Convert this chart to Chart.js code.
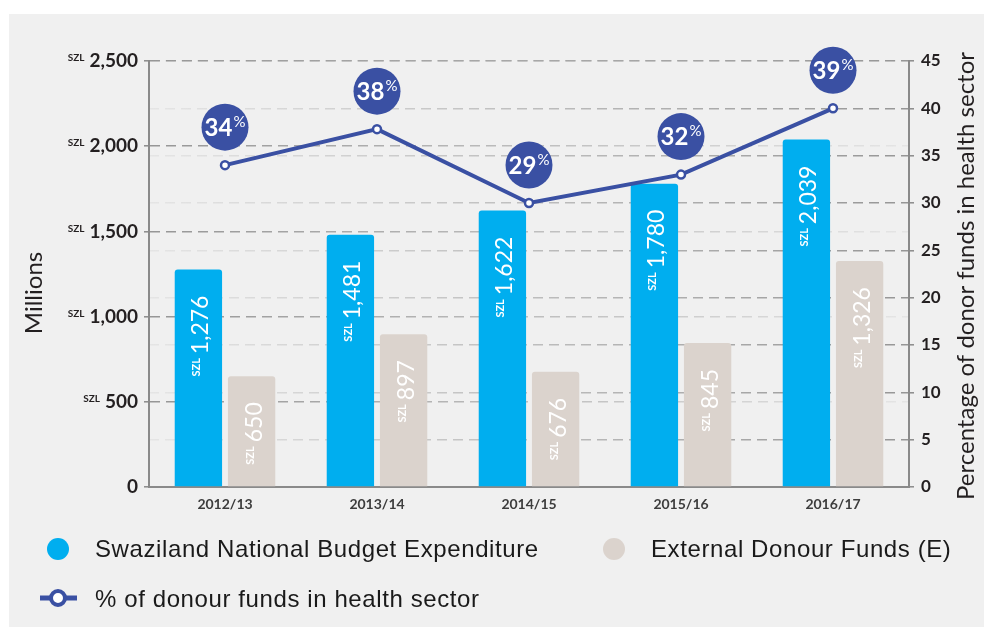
<!DOCTYPE html>
<html>
<head>
<meta charset="utf-8">
<script src="https://cdn.jsdelivr.net/npm/chart.js@4"></script>
<style>
  html, body { margin: 0; background: #fff; }
  canvas { display: block; }
</style>
</head>
<body>
<canvas id="chart" width="984" height="627"></canvas>
<script>
var years = ['2012/13', '2013/14', '2014/15', '2015/16', '2016/17'];
var budget = [1276, 1481, 1622, 1780, 2039];
var donor = [650, 897, 676, 845, 1326];
// where the points sit on the right axis, and the rounded numbers printed in the bubbles
var pctLine = [34, 37.8, 30, 33, 40];
var pctLabels = [34, 38, 29, 32, 39];

var BLUE = '#00aeef';
var BEIGE = '#dbd3cd';
var NAVY = '#3a50a3';
var AXIS = '#8a8a8a';

function fmt(v) { return v.toLocaleString('en-US'); }

// grid lines fade away from the axis they belong to
function gridGrad(chart, fromLeft) {
  var a = chart.chartArea;
  if (!a) return '#aaa';
  var g = chart.ctx.createLinearGradient(a.left, 0, a.right, 0);
  var dark = 'rgba(150,150,150,1)', light = 'rgba(150,150,150,0.12)';
  g.addColorStop(0, fromLeft ? dark : light);
  g.addColorStop(1, fromLeft ? light : dark);
  return g;
}

var decor = {
  id: 'decor',
  beforeDraw: function(chart) {
    var c = chart.ctx;
    c.save();
    c.fillStyle = '#fff';
    c.fillRect(0, 0, chart.width, chart.height);
    c.fillStyle = '#f0f0f0';
    c.fillRect(9, 14, chart.width - 9, chart.height - 14);
    c.restore();
  },
  afterDatasetsDraw: function(chart) {
    var c = chart.ctx;
    c.save();
    // rotated value labels inside the bars
    [0, 1].forEach(function(di) {
      var meta = chart.getDatasetMeta(di);
      var vals = chart.data.datasets[di].data;
      meta.data.forEach(function(bar, i) {
        c.save();
        c.translate(bar.x + 10, bar.y + 26);
        c.rotate(-Math.PI / 2);
        c.fillStyle = '#fff';
        c.textAlign = 'right';
        c.textBaseline = 'alphabetic';
        c.font = '23px Lato';
        var s = fmt(vals[i]);
        var w = c.measureText(s).width;
        c.fillText(s, 0, 0);
        c.font = 'bold 11px Lato';
        c.fillText('SZL', -w - 4, -8);
        c.restore();
      });
    });
    // percentage bubbles above the line points
    var lm = chart.getDatasetMeta(2);
    lm.data.forEach(function(pt, i) {
      var cx = pt.x, cy = pt.y - 38;
      c.beginPath();
      c.arc(cx, cy, 23.5, 0, Math.PI * 2);
      c.fillStyle = NAVY;
      c.fill();
      c.fillStyle = '#fff';
      c.textBaseline = 'alphabetic';
      c.textAlign = 'left';
      c.font = 'bold 24px Lato';
      var s = String(pctLabels[i]);
      var w1 = c.measureText(s).width;
      c.font = '15px Lato';
      var w2 = c.measureText('%').width;
      var x0 = cx - (w1 + w2 + 1) / 2;
      c.font = 'bold 24px Lato';
      c.fillText(s, x0, cy + 8.5);
      c.font = '15px Lato';
      c.fillText('%', x0 + w1 + 1, cy - 0.5);
    });
    c.restore();
  },
  afterDraw: function(chart) {
    var c = chart.ctx;
    var y = chart.scales.y;
    var a = chart.chartArea;
    c.save();
    // "SZL" prefix on the left tick labels
    y.ticks.forEach(function(t) {
      if (t.value === 0) return;
      var py = y.getPixelForValue(t.value);
      c.font = 'bold 19px Lato';
      var w = c.measureText(fmt(t.value)).width;
      c.font = 'bold 10px Lato';
      c.fillStyle = '#231f20';
      c.textAlign = 'right';
      c.textBaseline = 'top';
      c.fillText('SZL', a.left - 11 - w - 5, py - 8);
    });
    // axis titles, both reading bottom to top
    c.fillStyle = '#231f20';
    c.textAlign = 'center';
    c.textBaseline = 'middle';
    c.font = '24px Lato';
    c.save();
    c.translate(34, 293);
    c.rotate(-Math.PI / 2);
    c.fillText('Millions', 0, 0);
    c.restore();
    c.save();
    c.translate(966, 276);
    c.rotate(-Math.PI / 2);
    c.fillText('Percentage of donor funds in health sector', 0, 0);
    c.restore();
    // legend
    var ds = chart.data.datasets;
    c.textAlign = 'left';
    c.textBaseline = 'middle';
    c.font = '24px "Liberation Sans"';
    c.letterSpacing = '0.6px';
    c.fillStyle = ds[0].backgroundColor;
    c.beginPath(); c.arc(58, 549, 11, 0, Math.PI * 2); c.fill();
    c.fillStyle = '#1a1a1a';
    c.fillText(ds[0].label, 95, 550);
    c.fillStyle = ds[1].backgroundColor;
    c.beginPath(); c.arc(614, 549, 11, 0, Math.PI * 2); c.fill();
    c.fillStyle = '#1a1a1a';
    c.fillText(ds[1].label, 651, 550);
    c.strokeStyle = ds[2].borderColor;
    c.lineWidth = 5;
    c.beginPath(); c.moveTo(40, 598); c.lineTo(77, 598); c.stroke();
    c.beginPath(); c.arc(58, 598, 7, 0, Math.PI * 2);
    c.fillStyle = '#fff'; c.fill();
    c.lineWidth = 4; c.stroke();
    c.fillStyle = '#1a1a1a';
    c.fillText(ds[2].label, 95, 600);
    c.restore();
  }
};

new Chart(document.getElementById('chart'), {
  type: 'bar',
  data: {
    labels: years,
    datasets: [
      {
        label: 'Swaziland National Budget Expenditure',
        data: budget,
        backgroundColor: BLUE,
        borderRadius: { topLeft: 3, topRight: 3 },
        borderSkipped: 'bottom',
        categoryPercentage: 0.7,
        barPercentage: 0.89,
        yAxisID: 'y',
        order: 2
      },
      {
        label: 'External Donour Funds (E)',
        data: donor,
        backgroundColor: BEIGE,
        borderRadius: { topLeft: 3, topRight: 3 },
        borderSkipped: 'bottom',
        categoryPercentage: 0.7,
        barPercentage: 0.89,
        yAxisID: 'y',
        order: 2
      },
      {
        type: 'line',
        label: '% of donour funds in health sector',
        data: pctLine,
        borderColor: NAVY,
        borderWidth: 4,
        pointRadius: 4,
        pointBackgroundColor: '#fff',
        pointBorderColor: NAVY,
        pointBorderWidth: 2.5,
        tension: 0,
        yAxisID: 'y1',
        order: 0
      }
    ]
  },
  options: {
    responsive: false,
    animation: false,
    layout: { padding: { left: 0, right: 0, top: 61, bottom: 110 } },
    plugins: {
      legend: { display: false },
      tooltip: { enabled: false }
    },
    scales: {
      x: {
        grid: { display: false, drawTicks: false },
        border: { display: true, color: AXIS, width: 2 },
        ticks: {
          color: '#3d3d3d',
          font: { family: 'Lato', size: 14, weight: 'bold' },
          padding: 9
        },
        afterFit: function(s) { s.height = 30; }
      },
      y: {
        position: 'left',
        min: 0,
        max: 2500,
        ticks: {
          stepSize: 500,
          color: '#231f20',
          font: { family: 'Lato', size: 19, weight: 'bold' },
          padding: 6,
          callback: function(v) { return fmt(v); }
        },
        grid: {
          color: function(ctx) { return gridGrad(ctx.chart, true); },
          lineWidth: 1.6,
          tickLength: 5,
          tickColor: AXIS,
          tickWidth: 1.5,
          tickBorderDash: []
        },
        border: { display: true, color: AXIS, width: 2, dash: [10, 6] },
        afterFit: function(s) { s.width = 149; }
      },
      y1: {
        position: 'right',
        min: 0,
        max: 45,
        ticks: {
          stepSize: 5,
          color: '#231f20',
          font: { family: 'Lato', size: 17, weight: 'bold' },
          padding: 7
        },
        grid: {
          color: function(ctx) { return gridGrad(ctx.chart, false); },
          lineWidth: 1.6,
          tickLength: 5,
          tickColor: AXIS,
          tickWidth: 1.5,
          tickBorderDash: []
        },
        border: { display: true, color: AXIS, width: 2, dash: [10, 6] },
        afterFit: function(s) { s.width = 75; }
      }
    }
  },
  plugins: [decor]
});
</script>
</body>
</html>
